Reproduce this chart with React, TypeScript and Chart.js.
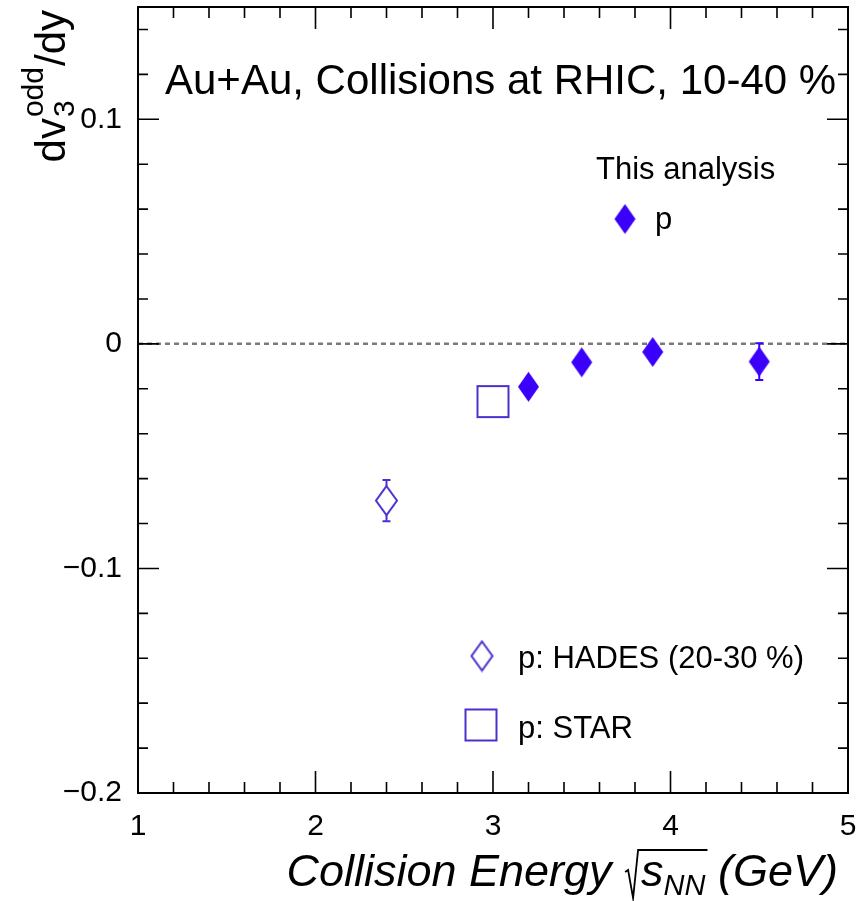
import React, { useEffect, useRef } from 'react';
import { Chart, registerables } from 'chart.js';

Chart.register(...registerables);

// ---- data ----
const thisEnergy = [3.2, 3.5, 3.9, 4.5];
const thisDv3 = [-0.0191, -0.0082, -0.0036, -0.0079];
const thisErr = [0.002, 0.002, 0.002, 0.0082];

const hadesEnergy = [2.4];
const hadesDv3 = [-0.0698];
const hadesErr = [0.0092];

const starEnergy = [3.0];
const starDv3 = [-0.0257];
const starErr = [0];

const xTickValues = [1, 2, 3, 4, 5];
const yTickValues = [-0.2, -0.1, 0, 0.1];

const titleText = 'Au+Au, Collisions at RHIC, 10-40 %';
const legendHeader = 'This analysis';
const legendThis = 'p';
const legendHades = 'p: HADES (20-30 %)';
const legendStar = 'p: STAR';

const FONT = '"Liberation Sans", Arial, Helvetica, sans-serif';
const FILLED = 'rgb(58,0,250)';
const OPEN = 'rgb(78,46,205)';

function makeDiamond(w: number, h: number, color: string, filled: boolean) {
  const c = document.createElement('canvas');
  c.width = w + 4;
  c.height = h + 4;
  const g = c.getContext('2d')!;
  const cx = c.width / 2, cy = c.height / 2;
  g.beginPath();
  g.moveTo(cx, cy - h / 2);
  g.lineTo(cx + w / 2, cy);
  g.lineTo(cx, cy + h / 2);
  g.lineTo(cx - w / 2, cy);
  g.closePath();
  if (filled) {
    g.fillStyle = color;
    g.fill();
  } else {
    g.strokeStyle = color;
    g.lineWidth = 2;
    g.stroke();
  }
  return c;
}

function makeSquare(s: number, color: string) {
  const c = document.createElement('canvas');
  c.width = s + 4;
  c.height = s + 4;
  const g = c.getContext('2d')!;
  g.strokeStyle = color;
  g.lineWidth = 2;
  g.strokeRect(2, 2, s, s);
  return c;
}

const fmtY = (v: number) => {
  if (Math.abs(v) < 1e-9) return '0';
  return (v < 0 ? '\u2212' : '') + Math.abs(v).toFixed(1);
};

const noPadding = () => ({ left: 0, right: 0, top: 0, bottom: 0 });

export default function App() {
  const ref = useRef<HTMLCanvasElement | null>(null);

  useEffect(() => {
    const canvas = ref.current!;
    const filledDiamond = makeDiamond(21, 30, FILLED, true);
    const openDiamond = makeDiamond(21, 29, OPEN, false);
    const openSquare = makeSquare(31, OPEN);

    const plugin = {
      id: 'rootStyle',
      beforeDatasetsDraw(chart: any) {
        const { ctx, chartArea: a, scales } = chart;
        const y = scales.y;
        ctx.save();
        // zero line
        ctx.strokeStyle = '#7a7a7a';
        ctx.lineWidth = 2.5;
        ctx.setLineDash([5, 4]);
        const y0 = y.getPixelForValue(0);
        ctx.beginPath();
        ctx.moveTo(a.left, y0);
        ctx.lineTo(a.right, y0);
        ctx.stroke();
        ctx.setLineDash([]);
        // error bars
        chart.data.datasets.forEach((ds: any, i: number) => {
          const errs = ds.errors;
          if (!errs) return;
          const meta = chart.getDatasetMeta(i);
          ctx.strokeStyle = ds.errColor;
          ctx.lineWidth = 2;
          meta.data.forEach((pt: any, j: number) => {
            const e = errs[j];
            if (!e) return;
            const v = ds.data[j].y;
            const yt = y.getPixelForValue(v + e);
            const yb = y.getPixelForValue(v - e);
            const gap = ds.gap || 0;
            ctx.beginPath();
            if (yt < pt.y - gap) {
              ctx.moveTo(pt.x, yt);
              ctx.lineTo(pt.x, pt.y - gap);
              ctx.moveTo(pt.x - 4, yt);
              ctx.lineTo(pt.x + 4, yt);
            }
            if (yb > pt.y + gap) {
              ctx.moveTo(pt.x, pt.y + gap);
              ctx.lineTo(pt.x, yb);
              ctx.moveTo(pt.x - 4, yb);
              ctx.lineTo(pt.x + 4, yb);
            }
            ctx.stroke();
          });
        });
        ctx.restore();
      },
      afterDraw(chart: any) {
        const { ctx, chartArea: a, scales } = chart;
        const x = scales.x, y = scales.y;
        ctx.save();
        // frame
        ctx.strokeStyle = '#000';
        ctx.lineWidth = 2;
        ctx.strokeRect(a.left, a.top, a.right - a.left, a.bottom - a.top);
        // ticks (inside, all four sides)
        ctx.lineWidth = 1.6;
        ctx.beginPath();
        for (let k = 0; k <= 20; k++) {
          const v = 1 + k * 0.2;
          const px = x.getPixelForValue(v);
          const len = k % 5 === 0 ? 22 : 11;
          ctx.moveTo(px, a.bottom);
          ctx.lineTo(px, a.bottom - len);
          ctx.moveTo(px, a.top);
          ctx.lineTo(px, a.top + len);
        }
        for (let k = 0; k <= 17; k++) {
          const v = -0.2 + k * 0.02;
          const py = y.getPixelForValue(v);
          const len = k % 5 === 0 ? 21 : 10;
          ctx.moveTo(a.left, py);
          ctx.lineTo(a.left + len, py);
          ctx.moveTo(a.right, py);
          ctx.lineTo(a.right - len, py);
        }
        ctx.stroke();

        ctx.fillStyle = '#000';
        ctx.textBaseline = 'alphabetic';
        // title
        ctx.font = `42px ${FONT}`;
        ctx.textAlign = 'left';
        ctx.fillText(titleText, 165, 94);

        // legend
        ctx.font = `31px ${FONT}`;
        ctx.fillText(legendHeader, 596, 179);
        ctx.fillText(legendThis, 655, 229);
        ctx.drawImage(filledDiamond, 625 - filledDiamond.width / 2, 219 - filledDiamond.height / 2);
        ctx.fillText(legendHades, 518, 668);
        ctx.drawImage(openDiamond, 482 - openDiamond.width / 2, 656 - openDiamond.height / 2);
        ctx.fillText(legendStar, 518, 738);
        ctx.drawImage(openSquare, 481 - openSquare.width / 2, 725 - openSquare.height / 2);

        // y axis title (rotated)
        const big = 42, small = 30;
        ctx.font = `${big}px ${FONT}`;
        const wDv = ctx.measureText('dv').width;
        const wSlash = ctx.measureText('/dy').width;
        ctx.font = `${small}px ${FONT}`;
        const wSub = ctx.measureText('3').width;
        const wSup = ctx.measureText('odd').width;
        const total = wDv + Math.max(wSub, wSup) + wSlash;
        ctx.save();
        ctx.translate(65, 12 + total);
        ctx.rotate(-Math.PI / 2);
        ctx.font = `${big}px ${FONT}`;
        ctx.fillText('dv', 0, 0);
        ctx.font = `${small}px ${FONT}`;
        ctx.fillText('3', wDv + 1, 9);
        ctx.fillText('odd', wDv + 1, -22);
        ctx.font = `${big}px ${FONT}`;
        ctx.fillText('/dy', wDv + Math.max(wSub, wSup) + 2, 0);
        ctx.restore();

        // x axis title
        const xf = 45, xs = 29;
        const base = 886;
        ctx.font = `italic ${xf}px ${FONT}`;
        const p1 = 'Collision Energy ';
        const w1 = ctx.measureText(p1).width;
        const wS = ctx.measureText('s').width;
        const p3 = ' (GeV)';
        const w3 = ctx.measureText(p3).width;
        ctx.font = `italic ${xs}px ${FONT}`;
        const wNN = ctx.measureText('NN').width;
        const radW = 17;
        const totalX = w1 + radW + wS + wNN + w3;
        let cx = 838 - totalX;
        ctx.font = `italic ${xf}px ${FONT}`;
        ctx.fillText(p1, cx, base);
        cx += w1;
        // radical sign
        ctx.lineWidth = 1.8;
        ctx.beginPath();
        ctx.moveTo(cx + 1, base - 14);
        ctx.lineTo(cx + 4, base - 16);
        ctx.lineTo(cx + 9, base + 12);
        ctx.lineTo(cx + 14, base - 36);
        ctx.lineTo(cx + radW + wS + wNN + 2, base - 36);
        ctx.stroke();
        cx += radW;
        ctx.fillText('s', cx, base);
        cx += wS;
        ctx.font = `italic ${xs}px ${FONT}`;
        ctx.fillText('NN', cx, base + 9);
        cx += wNN;
        ctx.font = `italic ${xf}px ${FONT}`;
        ctx.fillText(p3, cx, base);
        ctx.restore();
      },
    };

    const chart = new Chart(canvas, {
      type: 'scatter',
      data: {
        datasets: [
          {
            label: legendHades,
            data: hadesEnergy.map((e, i) => ({ x: e, y: hadesDv3[i] })),
            pointStyle: openDiamond as any,
            pointRadius: 12,
            errors: hadesErr,
            errColor: OPEN,
            gap: 14.5,
          } as any,
          {
            label: legendStar,
            data: starEnergy.map((e, i) => ({ x: e, y: starDv3[i] })),
            pointStyle: openSquare as any,
            pointRadius: 15,
            errors: starErr,
            errColor: OPEN,
            gap: 15.5,
          } as any,
          {
            label: legendThis,
            data: thisEnergy.map((e, i) => ({ x: e, y: thisDv3[i] })),
            pointStyle: filledDiamond as any,
            pointRadius: 12,
            errors: thisErr,
            errColor: FILLED,
            gap: 0,
          } as any,
        ],
      },
      options: {
        responsive: false,
        animation: false,
        devicePixelRatio: 1,
        layout: { autoPadding: false, padding: { left: 0, top: 7, right: 12, bottom: 0 } },
        plugins: {
          legend: { display: false },
          tooltip: { enabled: false },
        },
        scales: {
          x: {
            type: 'linear',
            min: 1,
            max: 5,
            afterFit: (s: any) => {
              s.height = 108;
              s.paddingLeft = 0;
              s.paddingRight = 0;
              s.getPadding = noPadding;
            },
            afterBuildTicks: (s: any) => {
              s.ticks = xTickValues.map((v) => ({ value: v }));
            },
            ticks: {
              font: { family: FONT, size: 30 },
              color: '#000',
              padding: 16,
              maxRotation: 0,
              callback: (v: any) => String(v),
            },
            grid: { display: false, drawTicks: false },
            border: { display: false },
          },
          y: {
            type: 'linear',
            min: -0.2,
            max: 0.15,
            afterFit: (s: any) => {
              s.width = 138;
              s.paddingTop = 0;
              s.paddingBottom = 0;
              s.getPadding = noPadding;
            },
            afterBuildTicks: (s: any) => {
              s.ticks = yTickValues.map((v) => ({ value: v }));
            },
            ticks: {
              font: { family: FONT, size: 30 },
              color: '#000',
              padding: 16,
              callback: (v: any) => fmtY(Number(v)),
            },
            grid: { display: false, drawTicks: false },
            border: { display: false },
          },
        },
      },
      plugins: [plugin],
    } as any);

    return () => chart.destroy();
  }, []);

  return (
    <div style={{ position: 'fixed', left: 0, top: 0, width: 860, height: 901, background: '#fff' }}>
      <canvas ref={ref} width={860} height={901} style={{ display: 'block' }} />
    </div>
  );
}
